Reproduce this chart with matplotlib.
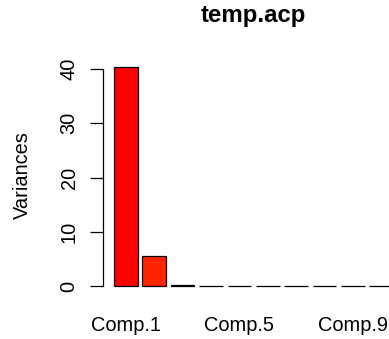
import matplotlib
matplotlib.use("Agg")
import matplotlib.pyplot as plt

# Data
components = ["Comp.1", "Comp.2", "Comp.3", "Comp.4", "Comp.5",
              "Comp.6", "Comp.7", "Comp.8", "Comp.9", "Comp.10"]
variances = [40.4, 5.5, 0.15, 0.06, 0.02, 0.015, 0.01, 0.008, 0.005, 0.003]
colors = ["#FF0000", "#FF2400", "#FF4900", "#FF6D00", "#FF9200",
          "#FFB600", "#FFDB00", "#FFFF00", "#FFFF40", "#FFFFBF"]
yticks = [0, 10, 20, 30, 40]
title = "temp.acp"
ylabel = "Variances"

plt.rcParams['font.family'] = ['Liberation Sans', 'DejaVu Sans']

W, H = 389, 339
dpi = 100
fig = plt.figure(figsize=(W / dpi, H / dpi), dpi=dpi)

# axes geometry in pixels (R barplot region, extends past right edge)
left_px, right_px = 102.8, 404.3
bottom_px, top_px = 294.8, 58.1
ax = fig.add_axes([left_px / W, (H - bottom_px) / H,
                   (right_px - left_px) / W, (bottom_px - top_px) / H])

n = len(variances)
space, width = 0.2, 1.0
lefts = [space + i * (width + space) for i in range(n)]
centers = [l + width / 2 for l in lefts]
ax.bar(lefts, variances, width=width, align='edge', color=colors,
       edgecolor='black', linewidth=0.9)

xmin, xmax = lefts[0], lefts[-1] + width
xr = xmax - xmin
ax.set_xlim(xmin - 0.04 * xr, xmax + 0.04 * xr)
ymax = max(variances)
ax.set_ylim(-0.04 * ymax, 1.04 * ymax)

for s in ['top', 'right', 'bottom']:
    ax.spines[s].set_visible(False)
ax.spines['left'].set_bounds(yticks[0], yticks[-1])
ax.spines['left'].set_linewidth(0.9)

ax.set_yticks(yticks)
ax.set_yticklabels([str(t) for t in yticks], rotation=90, va='center')
ax.tick_params(axis='y', length=9.4, width=0.9, pad=8, labelsize=14.4)

shown = [0, 4, 8]
ax.set_xticks([centers[i] for i in shown])
ax.set_xticklabels([components[i] for i in shown])
ax.tick_params(axis='x', length=0, pad=15, labelsize=14.4)

fig.text(22 / W, (H - 175) / H, ylabel, rotation=90, ha='center', va='center',
         fontsize=14.4)
fig.text((left_px + right_px) / 2 / W, (H - 22) / H, title, ha='center',
         va='baseline', fontsize=17.3, fontweight='bold')

fig.savefig("out.png", dpi=dpi)
